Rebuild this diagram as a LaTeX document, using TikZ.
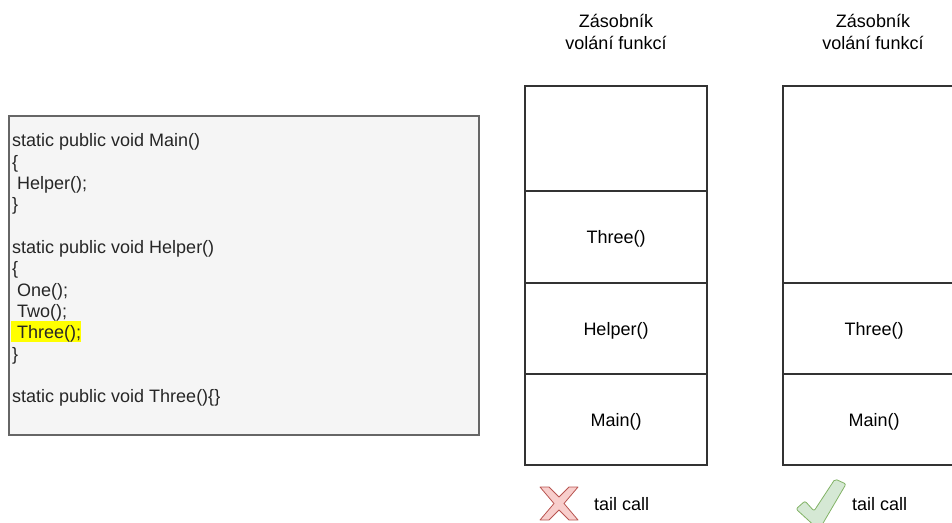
\documentclass[tikz,border=0pt]{standalone}
\usepackage{fontspec}
\setmainfont{Liberation Sans}
\usetikzlibrary{positioning}

\definecolor{codefill}{HTML}{F5F5F5}
\definecolor{codeline}{HTML}{666666}
\definecolor{crossfill}{HTML}{F8CECC}
\definecolor{crossline}{HTML}{B85450}
\definecolor{tickfill}{HTML}{D5E8D4}
\definecolor{tickline}{HTML}{82B366}
\definecolor{marker}{HTML}{FFFF00}

\tikzset{
    cell/.style={draw=black!80, line width=1.2pt, minimum width=182pt, inner sep=0pt, outer sep=0pt,
                 text height=13pt, text depth=0pt, font=\fontsize{18}{21}\selectfont},
    title/.style={align=center, font=\fontsize{18}{21.3}\selectfont, inner sep=0pt},
    label/.style={anchor=base west, font=\fontsize{18}{21}\selectfont, inner sep=0pt}
}

\begin{document}
\begin{tikzpicture}[x=1pt,y=-1pt]
            \useasboundingbox (0, 0) rectangle (952, 522);
            \clip (0, 0) rectangle (952, 522);

            % code
            \draw[fill=codefill, draw=codeline, line width=1.2pt] (9, 116) rectangle (479, 435);
            \fill[marker] (11, 321) rectangle (81, 342);
            \node[anchor=north west, align=left, inner sep=0pt, text=black!85,
                  font=\fontsize{18}{21.33}\selectfont] (code) at (12, 133.5)
                {static public void Main()\\
                 \{\\
                 \ Helper();\\
                 \}\\[21.33pt]
                 static public void Helper()\\
                 \{\\
                 \ One();\\
                 \ Two();\\
                 \ Three();\\
                 \}\\[21.33pt]
                 static public void Three()\{\}};

            % stack 1
            \node[title] (title1) at (616, 32) {Zásobník\\volání funkcí};
            \node[cell, minimum height=105pt] (s1top) at (616, 138.5) {};
            \node[cell, minimum height=92pt, below=0pt of s1top] (s1three) {Three()};
            \node[cell, minimum height=91pt, below=0pt of s1three] (s1helper) {Helper()};
            \node[cell, minimum height=91pt, below=0pt of s1helper] (s1main) {Main()};

            % stack 2
            \node[title] (title2) at (873, 32) {Zásobník\\volání funkcí};
            \node[cell, minimum height=197pt] (s2top) at (874, 184.5) {};
            \node[cell, minimum height=91pt, below=0pt of s2top] (s2three) {Three()};
            \node[cell, minimum height=91pt, below=0pt of s2three] (s2main) {Main()};

            % cross
            \draw[fill=crossfill, draw=crossline, line width=0.8pt, line join=round]
                (540, 487) -- (549, 487) -- (559, 497) -- (569, 487) -- (578, 487) -- (564, 503.5)
                -- (578, 520) -- (569, 520) -- (559, 510) -- (549, 520) -- (540, 520) -- (554, 503.5) -- cycle;
            \node[label] (nottail) at (594, 510) {tail call};

            % tick
            \draw[fill=tickfill, draw=tickline, line width=0.8pt, line join=round, rounded corners=2pt]
                (796, 509) -- (805, 501) -- (814, 511) -- (835, 479) -- (846, 484) -- (819, 530) -- cycle;
            \node[label] (tail) at (852, 510) {tail call};
\end{tikzpicture}
\end{document}
